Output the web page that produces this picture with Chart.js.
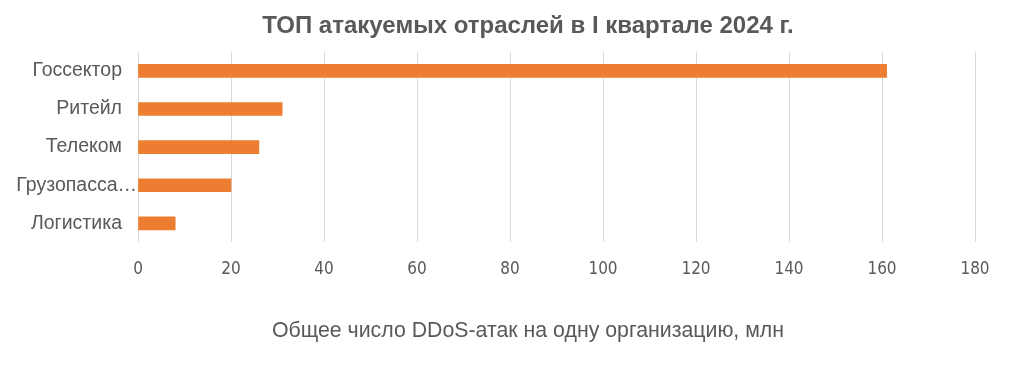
<!DOCTYPE html>
<html><head><meta charset="utf-8">
<script src="https://cdn.jsdelivr.net/npm/chart.js@4/dist/chart.umd.min.js"></script>
<style>html,body{margin:0;padding:0;background:#fff;}#wrap{width:1024px;height:375px;}</style>
</head><body><div id="wrap"><canvas id="c" width="1024" height="375"></canvas></div>
<script>
const categories = ["Госсектор", "Ритейл", "Телеком", "Грузопасса…", "Логистика"];
const values = [161, 31, 26, 20, 8];
const chartTitle = "ТОП атакуемых отраслей в I квартале 2024 г.";
const xAxisTitle = "Общее число DDoS-атак на одну организацию, млн";
const xMin = 0, xMax = 180, xStep = 20;

const FONT = 'Liberation Sans, Arial, sans-serif';

// Truncated labels: the ellipsis hangs past the label column, as in the original
const ellipsisShift = {
  id: 'ellipsisShift',
  beforeDraw(chart) {
    const items = chart.scales.y.getLabelItems();
    items.forEach(it => {
      if (!it._shifted && typeof it.label === 'string' && it.label.endsWith('…')) {
        it.options.translation[0] += 15;
        it._shifted = true;
      }
    });
  }
};

new Chart(document.getElementById('c'), {
  type: 'bar',
  data: { labels: categories, datasets: [{ data: values, backgroundColor: '#ED7D31', barThickness: 13 }] },
  plugins: [ellipsisShift],
  options: {
    indexAxis: 'y', responsive: false, animation: false,
    layout: { padding: { left: 0, right: -32, top: 0, bottom: 0 } },
    plugins: {
      legend: { display: false }, tooltip: { enabled: false },
      title: { display: true, text: chartTitle, color: '#595959',
        font: { family: FONT, size: 24, weight: 'bold' },
        padding: { top: 12, bottom: 11 } },
      subtitle: { display: true, position: 'bottom', text: xAxisTitle, color: '#595959',
        font: { family: FONT, size: 21.3, weight: 'normal' },
        padding: { top: 0, bottom: 31 } }
    },
    scales: {
      x: { min: xMin, max: xMax,
        ticks: { stepSize: xStep, color: '#595959', padding: 17,
          font: { family: '"Liberation Sans Narrow", "DejaVu Sans Condensed", sans-serif', size: 17 } },
        grid: { color: '#d9d9d9', drawTicks: false, lineWidth: 1 },
        border: { display: false },
        afterFit: s => { s.height = 76; }
      },
      y: {
        ticks: { color: '#595959', padding: 16, font: { family: FONT, size: 19.5 } },
        grid: { display: false, drawTicks: false }, border: { display: false },
        afterFit: s => { s.width = 138; }
      },
      yRight: {
        position: 'right', display: true,
        ticks: { display: false }, grid: { display: false, drawTicks: false }, border: { display: false },
        afterFit: s => { s.width = 81; }
      }
    }
  }
});
</script></body></html>
